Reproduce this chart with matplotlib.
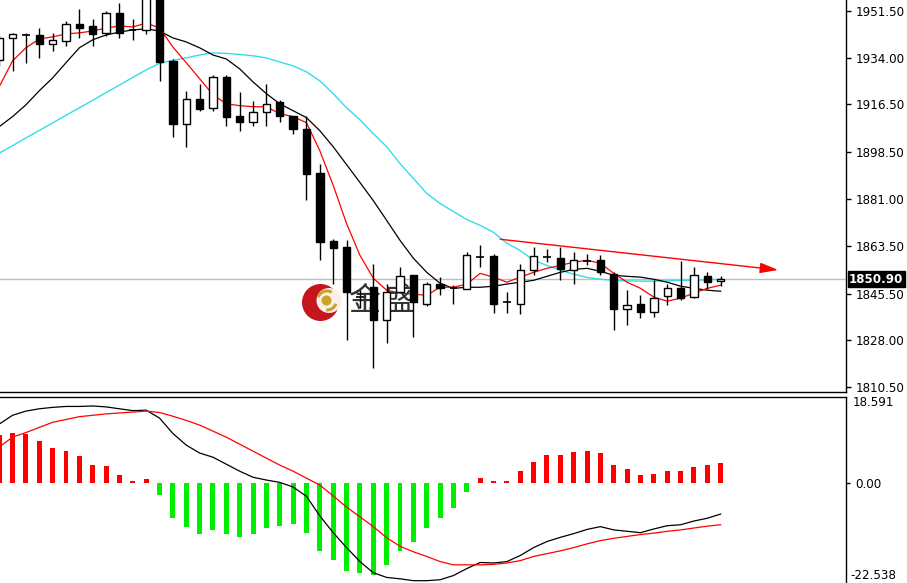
import matplotlib
matplotlib.use('Agg')
import matplotlib.pyplot as plt
import matplotlib.transforms as mtransforms
from matplotlib.patches import Rectangle, Circle, Wedge
import numpy as np

W, H = 907, 583

# ---------------- data ----------------
opens = [1933.2, 1941.5, 1942.6, 1942.4, 1939.05, 1940.3, 1946.75, 1945.9, 1943.4, 1950.9,
         1944.2, 1944.3, 1958.0, 1932.8, 1909.1, 1918.5, 1915.3, 1926.6, 1912.0, 1909.7,
         1913.5, 1917.2, 1912.2, 1907.3, 1890.7, 1865.2, 1863.0, 1844.3, 1848.0, 1835.6,
         1846.2, 1852.4, 1841.8, 1849.3, 1847.6, 1847.4, 1859.4, 1859.5, 1842.5, 1841.6,
         1854.5, 1859.4, 1859.0, 1854.3, 1857.9, 1858.3, 1853.0, 1839.9, 1841.6, 1838.7,
         1844.5, 1847.8, 1844.1, 1852.0, 1850.3]
highs = [1942.5, 1943.4, 1943.3, 1945.0, 1943.4, 1947.8, 1952.1, 1948.4, 1951.5, 1954.6,
         1948.4, 1960.0, 1961.0, 1933.4, 1921.6, 1924.3, 1927.6, 1927.6, 1921.0, 1917.8,
         1924.1, 1918.1, 1912.2, 1912.2, 1894.2, 1866.1, 1865.5, 1847.0, 1856.8, 1849.3,
         1855.5, 1852.6, 1849.9, 1851.8, 1848.7, 1861.1, 1863.6, 1860.5, 1846.2, 1856.8,
         1863.0, 1862.4, 1863.0, 1861.1, 1860.3, 1859.9, 1853.6, 1846.8, 1845.0, 1850.5,
         1849.3, 1857.7, 1855.5, 1853.6, 1852.3]
lows = [1931.0, 1929.1, 1932.1, 1933.8, 1936.5, 1938.4, 1941.5, 1938.4, 1942.2, 1941.5,
        1940.5, 1942.8, 1925.3, 1904.1, 1900.4, 1914.1, 1914.1, 1908.5, 1906.6, 1908.5,
        1908.5, 1909.7, 1905.4, 1880.7, 1858.3, 1849.3, 1828.1, 1840.0, 1817.5, 1826.9,
        1846.0, 1829.3, 1840.8, 1845.0, 1841.6, 1847.4, 1855.5, 1838.1, 1838.3, 1837.8,
        1852.4, 1857.4, 1850.5, 1849.3, 1856.1, 1852.4, 1831.8, 1833.7, 1836.2, 1836.6,
        1841.2, 1843.3, 1843.7, 1847.4, 1848.4]
closes = [1941.4, 1942.8, 1942.8, 1939.3, 1940.5, 1946.75, 1945.3, 1942.8, 1950.9, 1943.4,
          1944.4, 1958.0, 1932.5, 1909.1, 1918.5, 1914.7, 1926.6, 1911.6, 1909.7, 1913.5,
          1916.6, 1912.2, 1907.3, 1890.4, 1864.8, 1862.75, 1846.2, 1844.1, 1835.6, 1846.2,
          1852.0, 1842.3, 1849.3, 1847.8, 1847.4, 1859.9, 1859.6, 1841.6, 1842.3, 1854.3,
          1859.5, 1859.6, 1854.9, 1858.3, 1858.1, 1853.6, 1839.6, 1841.1, 1838.7, 1843.7,
          1847.8, 1843.7, 1852.4, 1849.9, 1850.9]

ma_fast = [1923.1, 1932.8, 1937.7, 1941.0, 1941.8, 1942.9, 1943.3, 1944.0, 1945.1, 1945.9,
           1945.5, 1947.0, 1945.1, 1938.0, 1932.1, 1926.1, 1920.1, 1916.7, 1916.0, 1915.6,
           1915.6, 1913.0, 1911.9, 1909.6, 1899.1, 1886.1, 1871.8, 1859.9, 1851.3, 1846.8,
           1845.7, 1845.3, 1844.9, 1847.9, 1847.9, 1849.1, 1853.1, 1851.7, 1849.8, 1851.7,
           1853.5, 1855.0, 1856.1, 1857.3, 1858.0, 1856.9, 1853.1, 1849.8, 1847.5, 1844.2,
           1842.7, 1843.8, 1845.7, 1847.5, 1848.7]
ma_mid = [1908.1, 1911.9, 1916.3, 1921.6, 1926.4, 1932.1, 1937.7, 1940.7, 1942.5, 1943.6,
          1944.4, 1944.8, 1944.0, 1941.4, 1939.9, 1937.7, 1935.0, 1933.5, 1929.8, 1924.9,
          1920.5, 1916.7, 1914.1, 1911.5, 1906.6, 1900.6, 1893.9, 1887.2, 1880.4, 1873.0,
          1865.5, 1858.8, 1853.5, 1849.4, 1847.5, 1847.9, 1847.9, 1848.3, 1849.1, 1849.8,
          1850.5, 1852.0, 1853.5, 1854.6, 1855.0, 1853.9, 1852.4, 1852.0, 1851.7, 1850.9,
          1849.8, 1848.3, 1847.5, 1846.8, 1846.4]
ma_slow = [1898.2, 1901.0, 1903.9, 1906.7, 1909.5, 1912.4, 1915.2, 1918.0, 1920.9, 1923.7,
           1926.6, 1929.4, 1931.9, 1933.0, 1933.9, 1935.0, 1935.8, 1935.6, 1935.2, 1934.7,
           1933.9, 1932.4, 1930.9, 1928.7, 1925.3, 1920.5, 1915.2, 1910.7, 1905.5, 1900.6,
           1894.3, 1888.7, 1883.1, 1879.3, 1876.3, 1873.3, 1871.1, 1868.5, 1864.4, 1861.7,
           1858.0, 1856.1, 1854.3, 1852.8, 1851.6, 1850.9, 1850.5, 1850.3, 1850.2, 1850.2,
           1850.3, 1850.5, 1850.5, 1850.7, 1850.9]

macd_hist = [10.3, 10.9, 10.5, 9.1, 7.6, 7.0, 5.8, 3.9, 3.7, 1.8,
             0.6, 0.9, -2.5, -7.5, -9.4, -10.9, -10.0, -10.9, -11.5, -10.9,
             -9.6, -9.1, -8.8, -10.6, -14.6, -16.4, -18.9, -19.2, -19.6, -17.6,
             -14.6, -12.7, -9.6, -7.5, -5.3, -1.8, 1.2, 0.6, 0.6, 2.7,
             4.6, 6.0, 6.0, 6.7, 7.0, 6.4, 3.9, 3.0, 1.8, 2.1,
             2.7, 2.7, 3.5, 3.9, 4.3]
macd_main = [12.7, 14.6, 15.5, 16.0, 16.3, 16.5, 16.5, 16.6, 16.4, 16.0,
             15.6, 15.7, 14.0, 10.7, 8.2, 6.5, 5.6, 4.1, 2.6, 1.3,
             0.7, 0.2, -0.8, -2.8, -7.0, -10.6, -13.8, -16.8, -19.2, -20.2,
             -20.5, -20.9, -20.9, -20.7, -19.8, -18.3, -17.0, -17.1, -16.8, -15.5,
             -13.8, -12.5, -11.6, -10.8, -9.9, -9.3, -10.0, -10.3, -10.6, -9.8,
             -9.1, -8.9, -8.1, -7.5, -6.6]
macd_signal = [7.8, 9.9, 10.9, 12.0, 13.1, 13.7, 14.3, 14.6, 14.9, 15.1,
               15.3, 15.5, 15.2, 14.4, 13.5, 12.5, 11.2, 9.9, 8.4, 6.9,
               5.4, 3.9, 2.6, 1.1, -0.4, -2.7, -5.1, -7.2, -9.3, -11.7,
               -13.5, -14.7, -15.7, -16.8, -17.5, -17.5, -17.5, -17.4, -17.1, -16.6,
               -15.7, -15.1, -14.5, -13.8, -13.0, -12.3, -11.8, -11.4, -11.0, -10.7,
               -10.3, -10.0, -9.6, -9.2, -8.9]

price_ticks = [1951.5, 1934.0, 1916.5, 1898.5, 1881.0, 1863.5, 1845.5, 1828.0, 1810.5]
last_price = 1850.90
macd_top, macd_bottom = 18.591, -22.538
trend_x = [37.5, 58.3]
trend_y = [1865.9, 1854.4]
logo_text = ['金', '盛']

# ---------------- layout ----------------
idx = np.arange(len(opens))
XMIN, XMAX = 0.06, 0.06 + 846 / 13.36
PTOP, PBOT = 1955.62, 1808.74
FS = 8.6

fig = plt.figure(figsize=(W / 100, H / 100), dpi=100)
fig.patch.set_facecolor('white')

ax1 = fig.add_axes([0, (H - 391.7) / H, 846 / W, 391.7 / H])
ax2 = fig.add_axes([0, (H - 588.3) / H, 846 / W, 191.6 / H])

pix = mtransforms.Affine2D().scale(1 / W, -1 / H).translate(0, 1) + fig.transFigure

# ---------------- main panel ----------------
ax1.set_xlim(XMIN, XMAX)
ax1.set_ylim(PBOT, PTOP)

# logo (behind candles)
ax1.add_patch(Circle((320.5, 302.5), 18.5, transform=pix, facecolor='#C4161C',
                     edgecolor='none', zorder=1.2))
ax1.add_patch(Circle((329.0, 300.5), 12.5, transform=pix, facecolor='#FBEFEA',
                     edgecolor='none', zorder=1.3))
ax1.add_patch(Wedge((327.0, 300.5), 11.0, 200, 300, width=3, transform=pix,
                    facecolor='#C9A227', edgecolor='none', zorder=1.4))
ax1.add_patch(Wedge((327.0, 300.5), 11.0, 20, 95, width=3, transform=pix,
                    facecolor='#C9A227', edgecolor='none', zorder=1.4))
ax1.add_patch(Circle((326.5, 300.5), 5, transform=pix, facecolor='#C9A227',
                     edgecolor='none', zorder=1.4))
for ch, cx in zip(logo_text, [364.5, 399.0]):
    ax1.text(cx, 301, ch, transform=pix, fontsize=23, color='#333333',
             family=['Noto Sans CJK SC', 'DejaVu Sans'], ha='center', va='center',
             zorder=2.5)

# current price line
ax1.axhline(last_price, color='#BEBEBE', lw=1, zorder=1)

# moving averages
ax1.plot(idx, ma_slow, color='#33DDE8', lw=1.0, zorder=2)
ax1.plot(idx, ma_mid, color='black', lw=0.9, zorder=2)
ax1.plot(idx, ma_fast, color='#FF0000', lw=0.9, zorder=2.1)

# candles
bw = 0.55
for i, o, h, l, c in zip(idx, opens, highs, lows, closes):
    ax1.vlines(i, l, h, color='black', lw=1, zorder=3)
    if abs(c - o) < 0.45:
        ax1.hlines(o, i - bw / 2, i + bw / 2, color='black', lw=1.2, zorder=4)
    else:
        fc = 'white' if c > o else 'black'
        ax1.add_patch(Rectangle((i - bw / 2, min(o, c)), bw, abs(c - o), facecolor=fc,
                                edgecolor='black', lw=1, zorder=4))

# trend line with arrow
ax1.annotate('', xy=(trend_x[1], trend_y[1]), xytext=(trend_x[0], trend_y[0]),
             arrowprops=dict(arrowstyle='-|>,head_length=1.1,head_width=0.32',
                             color='#FF0000', lw=1.0, shrinkA=0, shrinkB=0),
             annotation_clip=False, zorder=5)

for s in ['left', 'top']:
    ax1.spines[s].set_visible(False)
for s in ['right', 'bottom']:
    ax1.spines[s].set_color('black')
    ax1.spines[s].set_linewidth(1)
ax1.set_xticks([])
ax1.yaxis.tick_right()
ax1.set_yticks(price_ticks)
ax1.set_yticklabels([f'{v:.2f}' for v in price_ticks])
ax1.tick_params(axis='y', direction='out', length=3.5, width=1, pad=3.5,
                labelsize=FS, colors='black')
ax1.text(1.0 + 3 / 846, last_price, f'{last_price:.2f}', transform=ax1.get_yaxis_transform(),
         fontsize=FS, color='white', fontweight='bold', va='center', ha='left',
         bbox=dict(boxstyle='square,pad=0.12', facecolor='black', edgecolor='black'),
         clip_on=False, zorder=6)

# ---------------- MACD panel ----------------
ax2.set_xlim(XMIN, XMAX)
ax2.set_ylim(macd_bottom, macd_top)
cols = ['#FF0000' if v > 0 else '#00EE00' for v in macd_hist]
ax2.bar(idx, macd_hist, width=0.37, color=cols, zorder=2)
ax2.plot(idx, macd_main, color='black', lw=0.9, zorder=3)
ax2.plot(idx, macd_signal, color='#FF0000', lw=0.9, zorder=3)

for s in ['left', 'bottom']:
    ax2.spines[s].set_visible(False)
for s in ['right', 'top']:
    ax2.spines[s].set_color('black')
    ax2.spines[s].set_linewidth(1)
ax2.set_xticks([])
ax2.yaxis.tick_right()
ax2.set_yticks([0])
ax2.set_yticklabels(['0.00'])
ax2.tick_params(axis='y', direction='out', length=3, width=1, pad=3.5,
                labelsize=FS, colors='black')
fig.text(852.7 / W, 1 - 402.5 / H, f'{macd_top:.3f}', fontsize=FS, color='black',
         va='center', ha='left')
fig.text(850.5 / W, 1 - 575.5 / H, f'{macd_bottom:.3f}', fontsize=FS, color='black',
         va='center', ha='left')

fig.savefig('out.png', dpi=100, facecolor='white')
